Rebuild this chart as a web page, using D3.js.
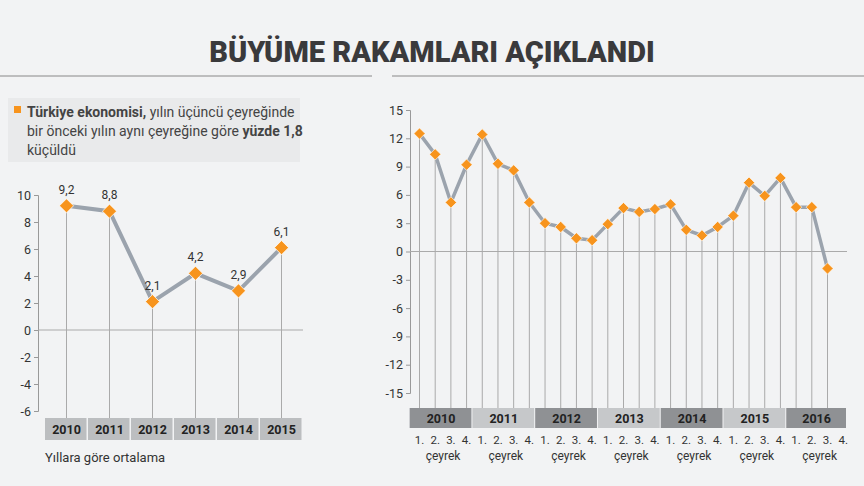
<!DOCTYPE html><html><head><meta charset="utf-8"><script src="https://cdn.jsdelivr.net/npm/d3@7"></script>
<style>body{margin:0;background:#f1f2f3}svg{display:block;font-family:Roboto,"Open Sans",sans-serif}</style></head><body>
<svg id="c" width="864" height="486"></svg>
<script>
const years=["2010","2011","2012","2013","2014","2015"];
const annual=[9.2,8.8,2.1,4.2,2.9,6.1];
const annualLabels=["9,2","8,8","2,1","4,2","2,9","6,1"];
const leftTicks=[10,8,6,4,2,0,-2,-4,-6];
const qYears=["2010","2011","2012","2013","2014","2015","2016"];
const quarterly=[12.5,10.3,5.2,9.2,12.4,9.3,8.6,5.2,3.0,2.6,1.4,1.2,2.9,4.6,4.2,4.5,5.0,2.3,1.7,2.6,3.8,7.3,5.9,7.8,4.7,4.7,-1.8];
const rightTicks=[15,12,9,6,3,0,-3,-6,-9,-12,-15];
const svg=d3.select("#c");
svg.append("rect").attr("width",864).attr("height",486).attr("fill","#f2f3f4");
svg.append("text").attr("x",432).attr("y",62).attr("text-anchor","middle").attr("font-size",29).attr("font-weight",900).attr("fill","#3a3a3c").text("BÜYÜME RAKAMLARI AÇIKLANDI");
svg.append("line").attr("x1",0).attr("x2",372).attr("y1",76).attr("y2",76).attr("stroke","#888");
svg.append("line").attr("x1",392).attr("x2",864).attr("y1",76).attr("y2",76).attr("stroke","#888");
svg.append("rect").attr("x",8).attr("y",98).attr("width",292).attr("height",64).attr("fill","#e6e7e8").attr("opacity",0.8);
svg.append("rect").attr("x",14).attr("y",106).attr("width",7).attr("height",7).attr("fill","#f7941d");
const t=svg.append("g").attr("font-size",14).attr("fill","#444");
let l1=t.append("text").attr("x",27).attr("y",117);
l1.append("tspan").attr("font-weight",700).text("Türkiye ekonomisi,");l1.append("tspan").text(" yılın üçüncü çeyreğinde");
let l2=t.append("text").attr("x",27).attr("y",136);
l2.append("tspan").text("bir önceki yılın aynı çeyreğine göre ");l2.append("tspan").attr("font-weight",700).text("yüzde 1,8");
t.append("text").attr("x",27).attr("y",155).text("küçüldü");
const axStyle=a=>{a.select(".domain").attr("stroke","#999");a.selectAll("line").attr("stroke","#999");a.selectAll("text").attr("font-size",12.5).attr("fill","#333").attr("font-family","Roboto");};
const sq=d3.symbol(d3.symbolSquare,1)();
// left chart
const yL=d3.scaleLinear().domain([-6,10]).range([411,195]);
const xL=d3.scaleBand().domain(years).range([45,303]);
const gl=svg.append("g");
gl.append("g").attr("transform","translate(38,0)").call(d3.axisLeft(yL).tickValues(leftTicks).tickSize(4).tickFormat(d=>d<0?"-"+Math.abs(d):d)).call(axStyle);
gl.append("line").attr("x1",38).attr("x2",303).attr("y1",yL(0)).attr("y2",yL(0)).attr("stroke","#aaa");
const cx=d=>xL(d)+xL.bandwidth()/2;
gl.selectAll(".v").data(years).join("line").attr("x1",cx).attr("x2",cx).attr("y1",(d,i)=>yL(annual[i])).attr("y2",418).attr("stroke","#aaa");
gl.append("path").attr("d",d3.line().x((d,i)=>cx(years[i])).y(d=>yL(d))(annual)).attr("fill","none").attr("stroke","#9ba3ad").attr("stroke-width",4);
gl.selectAll(".m").data(annual).join("rect").attr("x",-5).attr("y",-5).attr("width",10).attr("height",10).attr("transform",(d,i)=>`translate(${cx(years[i])},${yL(d)}) rotate(45)`).attr("fill","#f7941d").attr("stroke","#fff").attr("stroke-width",0.7);
gl.selectAll(".lb").data(annualLabels).join("text").attr("x",(d,i)=>cx(years[i])).attr("y",(d,i)=>yL(annual[i])-12).attr("text-anchor","middle").attr("font-size",12).attr("fill","#333").text(d=>d);
gl.selectAll(".yb").data(years).join("rect").attr("x",d=>xL(d)).attr("y",418).attr("width",xL.bandwidth()-1.5).attr("height",22).attr("fill","#bcbec0");
gl.selectAll(".yt").data(years).join("text").attr("x",cx).attr("y",434).attr("text-anchor","middle").attr("font-size",12.5).attr("font-weight",700).attr("fill","#222").text(d=>d);
svg.append("text").attr("x",45).attr("y",462).attr("font-size",13).attr("fill","#333").text("Yıllara göre ortalama");
// right chart
const yR=d3.scaleLinear().domain([-15,15]).range([393,110]);
const xR=d3.scaleLinear().domain([0,26]).range([419.5,827.5]);
const gr=svg.append("g");
gr.append("g").attr("transform","translate(410,0)").call(d3.axisLeft(yR).tickValues(rightTicks).tickSize(4).tickFormat(d=>d<0?"-"+Math.abs(d):d)).call(axStyle);
gr.append("line").attr("x1",410).attr("x2",847).attr("y1",yR(0)).attr("y2",yR(0)).attr("stroke","#aaa");
gr.selectAll(".v").data(quarterly).join("line").attr("x1",(d,i)=>xR(i)).attr("x2",(d,i)=>xR(i)).attr("y1",d=>yR(d)).attr("y2",408).attr("stroke","#aaa");
gr.append("path").attr("d",d3.line().x((d,i)=>xR(i)).y(d=>yR(d))(quarterly)).attr("fill","none").attr("stroke","#9ba3ad").attr("stroke-width",3.5);
gr.selectAll(".m").data(quarterly).join("rect").attr("x",-4).attr("y",-4).attr("width",8).attr("height",8).attr("transform",(d,i)=>`translate(${xR(i)},${yR(d)}) rotate(45)`).attr("fill","#f7941d").attr("stroke","#fff").attr("stroke-width",0.6);
const bw=xR(4)-xR(0);
qYears.forEach((y,k)=>{
 const x0=xR(k*4)-bw/8-2, w=k===6?847-x0:bw;
 gr.append("rect").attr("x",x0).attr("y",408).attr("width",w-1).attr("height",20).attr("fill",k%2?"#c6c8ca":"#8f9194");
 gr.append("text").attr("x",x0+w/2).attr("y",423).attr("text-anchor","middle").attr("font-size",12.5).attr("font-weight",700).attr("fill","#222").text(y);
 for(let q=0;q<4;q++) gr.append("text").attr("x",xR(k*4+q)).attr("y",444).attr("text-anchor","middle").attr("font-size",11.5).attr("fill","#333").text((q+1)+".");
 gr.append("text").attr("x",xR(k*4+1.5)).attr("y",460).attr("text-anchor","middle").attr("font-size",12).attr("fill","#333").text("çeyrek");
});
</script></body></html>
